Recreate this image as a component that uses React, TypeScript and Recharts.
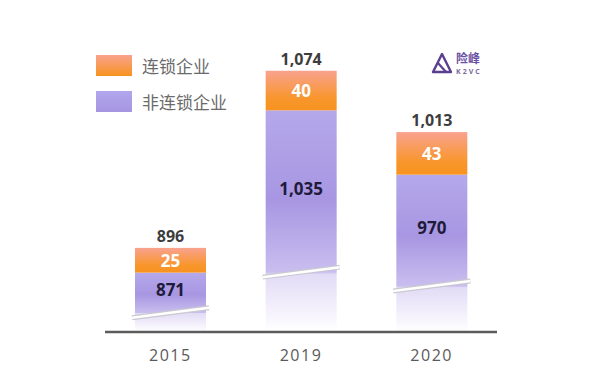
import React from 'react';
import { BarChart, Bar, XAxis, YAxis, LabelList, Legend } from 'recharts';

const years = ['2015', '2019', '2020'];
const chainValues = [25, 40, 43];
const nonChainValues = [871, 1035, 970];
const totals = [896, 1074, 1013];
const seriesNames = ['连锁企业', '非连锁企业'];

const data = years.map((year, i) => ({
  year,
  chain: chainValues[i],
  nonChain: nonChainValues[i],
  total: totals[i],
}));

// broken axis: the bars start at this value
const DOMAIN_MIN = 811;
const DOMAIN_MAX = 1100;
const W = 589;
const H = 375;
const MARGIN = { top: 46, right: 92, bottom: 13, left: 105 };
const AXIS_H = 30;
const PLOT_BOTTOM = H - MARGIN.bottom - AXIS_H;
const PX_PER_UNIT = (PLOT_BOTTOM - MARGIN.top) / (DOMAIN_MAX - DOMAIN_MIN);
const BREAK_FRAC = 0.23;

const font = '"Open Sans", "Noto Sans", sans-serif';
const cjkFont = '"Noto Sans CJK SC", "Noto Sans", sans-serif';

function breakY(index: number) {
  const totalH = (totals[index] - DOMAIN_MIN) * PX_PER_UNIT;
  return PLOT_BOTTOM - totalH * BREAK_FRAC;
}

function NonChainShape(props: any) {
  const { x, y, width, index } = props;
  const bottom = Math.min(y + props.height, PLOT_BOTTOM);
  const h = bottom - y;
  const by = breakY(index);
  const bf = Math.max(0, Math.min(1, (by - y) / h));
  const id = 'nc-grad-' + index;
  return (
    <g>
      <defs>
        <linearGradient id={id} x1="0" y1="0" x2="0" y2="1">
          <stop offset={0} stopColor="#b4a8ea" />
          <stop offset={bf * 0.55} stopColor="#a896e2" />
          <stop offset={bf} stopColor="#c9beef" />
          <stop offset={Math.min(1, bf + 0.01)} stopColor="#e2dbf6" />
          <stop offset={1} stopColor="#ffffff" />
        </linearGradient>
      </defs>
      <rect x={x} y={y} width={width} height={h} fill={`url(#${id})`} />
      <line x1={x - 3} y1={by + 5} x2={x + width + 3} y2={by - 5} stroke="#c9c9cf" strokeWidth={5} />
      <line x1={x - 3} y1={by + 5} x2={x + width + 3} y2={by - 5} stroke="#ffffff" strokeWidth={2.5} />
    </g>
  );
}

function ChainShape(props: any) {
  const { x, y, width, height } = props;
  return <rect x={x} y={y} width={width} height={height} fill="url(#chain-grad)" />;
}

function NonChainLabel(props: any) {
  const { x, y, width, index, value } = props;
  const cy = (y + breakY(index)) / 2 - 3;
  return (
    <text x={x + width / 2} y={cy} textAnchor="middle" dominantBaseline="central"
      fill="#1f1b3a" fontSize={17} fontWeight={700} fontFamily={font}>
      {Number(value).toLocaleString('en-US')}
    </text>
  );
}

function ChainLabel(props: any) {
  const { x, y, width, height, value } = props;
  return (
    <text x={x + width / 2} y={y + height / 2} textAnchor="middle" dominantBaseline="central"
      fill="#ffffff" fontSize={17} fontWeight={700} fontFamily={font}>
      {value}
    </text>
  );
}

function TotalLabel(props: any) {
  const { x, y, width, index } = props;
  return (
    <text x={x + width / 2} y={y - 12} textAnchor="middle" dominantBaseline="central"
      fill="#3d3d3d" fontSize={16} fontWeight={700} fontFamily={font}>
      {totals[index].toLocaleString('en-US')}
    </text>
  );
}

function LegendContent() {
  const swatches = [
    'linear-gradient(#f9a28f, #f7931f)',
    'linear-gradient(#b2a6ec, #a595e0)',
  ];
  return (
    <div style={{ position: 'absolute', left: 96, top: 55, width: 200 }}>
      {seriesNames.map((name, i) => (
        <div key={name} style={{ display: 'flex', alignItems: 'center', height: 21, marginBottom: 15, whiteSpace: 'nowrap' }}>
          <div style={{ width: 36, height: 21, background: swatches[i], flexShrink: 0 }} />
          <span style={{ marginLeft: 10, fontFamily: cjkFont, fontSize: 17, color: '#6b6b6b', lineHeight: '21px' }}>{name}</span>
        </div>
      ))}
    </div>
  );
}

function Logo() {
  return (
    <svg style={{ position: 'absolute', left: 430, top: 50 }} width={80} height={28}>
      <path d="M3 22 L12 4 L21 22 Z" fill="none" stroke="#5a3f8f" strokeWidth={2.4} strokeLinejoin="round" />
      <path d="M8 13 L16 22" stroke="#5a3f8f" strokeWidth={2.2} />
      <text x={26} y={13} fontFamily={cjkFont} fontSize={12} fontWeight={700} fill="#6a4fa3">险峰</text>
      <text x={26} y={24} fontFamily={font} fontSize={7} fontWeight={700} fill="#7a6aa0" letterSpacing={2}>K2VC</text>
    </svg>
  );
}

export default function App() {
  return (
    <div style={{ position: 'absolute', left: 0, top: 0, width: W, height: H, background: '#ffffff' }}>
      <BarChart width={W} height={H} data={data} margin={MARGIN} barSize={71}>
        <defs>
          <linearGradient id="chain-grad" x1="0" y1="0" x2="0" y2="1">
            <stop offset={0} stopColor="#f9a28f" />
            <stop offset={0.7} stopColor="#f8962c" />
            <stop offset={1} stopColor="#f7931f" />
          </linearGradient>
        </defs>
        <XAxis dataKey="year" height={AXIS_H} tickLine={false} tickMargin={12}
          axisLine={{ stroke: '#5c5c5c', strokeWidth: 2.5 }}
          tick={{ fill: '#5a5a5a', fontSize: 16, fontFamily: font, letterSpacing: 1.5 }} />
        <YAxis hide domain={[DOMAIN_MIN, DOMAIN_MAX]} allowDataOverflow />
        <Legend content={<LegendContent />} wrapperStyle={{ left: 0, top: 0, width: 300, height: 0 }} />
        <Bar dataKey="nonChain" name={seriesNames[1]} stackId="a" shape={<NonChainShape />} isAnimationActive={false}>
          <LabelList dataKey="nonChain" content={<NonChainLabel />} />
        </Bar>
        <Bar dataKey="chain" name={seriesNames[0]} stackId="a" shape={<ChainShape />} isAnimationActive={false}>
          <LabelList dataKey="chain" content={<ChainLabel />} />
          <LabelList dataKey="total" content={<TotalLabel />} />
        </Bar>
      </BarChart>
      <Logo />
    </div>
  );
}
